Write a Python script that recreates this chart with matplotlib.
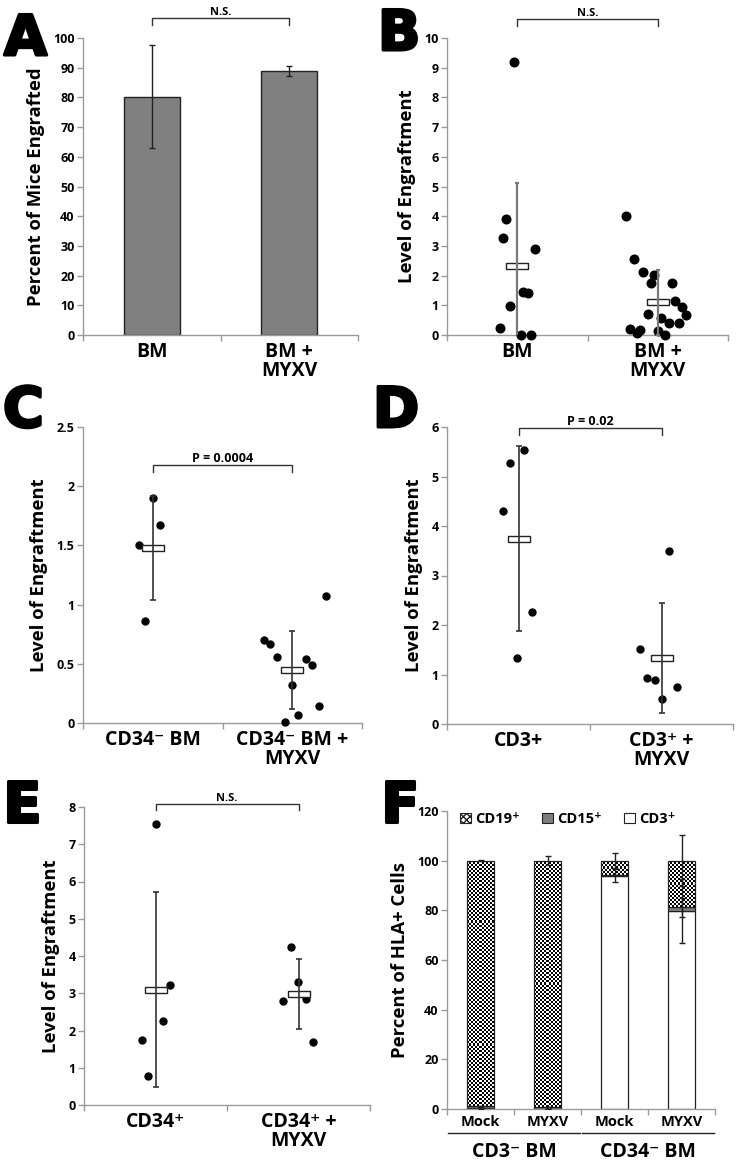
import matplotlib
matplotlib.use("Agg")
import matplotlib.pyplot as plt
import matplotlib.patheffects as pe
import numpy as np
from matplotlib.patches import Patch

plt.rcParams["font.family"] = ["Open Sans", "DejaVu Sans"]
plt.rcParams["font.weight"] = "bold"

# ---- panel A: percent of mice engrafted
a_groups = ["BM", "BM +\nMYXV"]
a_pct = [80.3, 88.8]
a_err = [17.5, 1.7]

# ---- panel B: level of engraftment, BM vs BM + MYXV
b_groups = ["BM", "BM +\nMYXV"]
b_bm = [9.2, 3.9, 3.28, 2.89, 1.44, 1.42, 0.98, 0.22, 0.0, 0.0]
b_bm_jit = [-0.024, -0.078, -0.099, 0.125, 0.040, 0.073, -0.054, -0.123, 0.024, 0.099]
b_myxv = [4.01, 2.55, 2.11, 2.01, 1.74, 1.75, 1.13, 0.94, 0.69, 0.71, 0.56, 0.42,
          0.39, 0.20, 0.17, 0.06, 0.13, 0.0]
b_myxv_jit = [-0.225, -0.170, -0.102, -0.024, -0.047, 0.102, 0.123, 0.173, 0.201,
              -0.071, 0.026, 0.078, 0.149, -0.199, -0.125, -0.149, 0.002, 0.052]
b_mean = [2.34, 1.10]
b_err = [2.79, 1.10]

# ---- panel C: CD34- BM
c_groups = ["CD34\u207b BM", "CD34\u207b BM +\nMYXV"]
c_bm = [1.90, 1.67, 1.50, 0.86]
c_bm_jit = [0.0, 0.050, -0.100, -0.053]
c_myxv = [0.70, 0.67, 0.56, 0.54, 0.49, 0.32, 0.14, 0.07, 0.005, 1.07]
c_myxv_jit = [-0.203, -0.156, -0.108, 0.096, 0.144, -0.005, 0.191, 0.043, -0.053, 0.239]
c_mean = [1.475, 0.45]
c_err = [0.44, 0.33]

# ---- panel D: CD3+
d_groups = ["CD3+", "CD3\u207a +\nMYXV"]
d_cd3 = [5.53, 5.28, 4.30, 2.26, 1.33]
d_cd3_jit = [0.040, -0.059, -0.106, 0.094, -0.007]
d_myxv = [3.49, 1.51, 0.93, 0.88, 0.50, 0.74]
d_myxv_jit = [0.054, -0.148, -0.101, -0.047, 0.0, 0.106]
d_mean = [3.74, 1.34]
d_err = [1.87, 1.11]

# ---- panel E: CD34+
e_groups = ["CD34\u207a", "CD34\u207a +\nMYXV"]
e_cd34 = [7.54, 3.21, 2.25, 1.75, 0.78]
e_cd34_jit = [0.0, 0.102, 0.051, -0.095, -0.049]
e_myxv = [4.25, 3.31, 2.79, 2.85, 1.68]
e_myxv_jit = [-0.049, -0.002, -0.105, 0.049, 0.102]
e_mean = [3.10, 2.97]
e_err = [2.63, 0.94]

# ---- panel F: lineage of HLA+ cells (stacked)
f_groups = ["Mock", "MYXV", "Mock", "MYXV"]
f_sets = ["CD3\u207b BM", "CD34\u207b BM"]
f_cd3 = [0.3, 0.0, 94.0, 79.7]
f_cd15 = [1.0, 0.8, 0.3, 1.5]
f_cd19 = [98.7, 99.2, 5.7, 18.8]
f_cd3_err = [0.5, 0.0, 2.7, 13.0]
f_cd15_err = [0.0, 0.0, 0.0, 3.7]
f_cd19_err = [0.3, 1.8, 3.0, 10.2]

W, H = 739, 1161
fig = plt.figure(figsize=(W / 100, H / 100), dpi=100)

SPINE = "#9a9a9a"
YLAB = 13.3
XLAB = 14


def px_axes(x0, y0, x1, y1):
    # pixel box (top-left origin) -> figure axes
    return fig.add_axes([x0 / W, 1 - y1 / H, (x1 - x0) / W, (y1 - y0) / H])


def style(ax, ylim, yticks, ylabel, ncat=2, fmt="{:g}"):
    ax.set_xlim(-0.5, ncat - 0.5)
    ax.set_ylim(*ylim)
    for s in ["top", "right"]:
        ax.spines[s].set_visible(False)
    for s in ["left", "bottom"]:
        ax.spines[s].set_color(SPINE)
        ax.spines[s].set_linewidth(1.0)
    ax.set_yticks(yticks)
    ax.set_yticklabels([fmt.format(t) for t in yticks], fontsize=9, fontweight="bold")
    ax.tick_params(axis="y", length=4, color=SPINE, width=1, pad=2)
    ax.set_xticks(range(ncat))
    ax.set_xticks(np.arange(-0.5, ncat, 1.0), minor=True)
    ax.tick_params(axis="x", which="major", length=0, pad=5)
    ax.tick_params(axis="x", which="minor", length=4, color=SPINE, width=1)
    ax.set_ylabel(ylabel, fontsize=YLAB, fontweight="bold", labelpad=6)


def bracket(ax, x0, x1, y, drop, text, fs=8.5):
    ax.plot([x0, x0, x1, x1], [y - drop, y, y, y - drop], color="#333333",
            lw=1.0, clip_on=False)
    ax.text((x0 + x1) / 2, y, text, ha="center", va="bottom", fontsize=fs,
            fontweight="bold")


def strip(ax, groups, jits, means, errs, dot=5, ecol="#333333", elw=1.2, cap=2.5):
    for i, (vals, jit) in enumerate(zip(groups, jits)):
        ax.plot(i + np.array(jit), vals, "o", color="black", ms=dot, zorder=3,
                clip_on=False)
    box = [(-1, -0.25), (1, -0.25), (1, 0.25), (-1, 0.25), (-1, -0.25)]
    ax.plot(range(len(means)), means, linestyle="none", marker=box, ms=16,
            mfc="white", mec="#222222", mew=1.0, zorder=4)
    ax.errorbar(range(len(means)), means, yerr=errs, fmt="none", ecolor=ecol,
                elinewidth=elw, capsize=cap, capthick=elw, zorder=5)


# ---------------- A
axA = px_axes(83, 38, 358, 335)
axA.bar(range(2), a_pct, width=0.41, color="#808080", edgecolor="#222222", lw=1.0,
        yerr=a_err, capsize=2.5, error_kw=dict(ecolor="#222222", elinewidth=1.0))
style(axA, (0, 100), range(0, 101, 10), "Percent of Mice Engrafted")
axA.set_xticklabels(a_groups, fontsize=XLAB, fontweight="bold", linespacing=0.95)
bracket(axA, 0, 1, 106.7, 2.4, "N.S.", fs=8)

# ---------------- B
axB = px_axes(447, 38, 728, 335)
strip(axB, [b_bm, b_myxv], [b_bm_jit, b_myxv_jit], b_mean, b_err, dot=6.2,
      ecol="#7a7a7a", elw=1.6, cap=1.5)
style(axB, (0, 10), range(0, 11), "Level of Engraftment")
axB.set_xticklabels(b_groups, fontsize=XLAB, fontweight="bold", linespacing=0.95)
bracket(axB, 0, 1, 10.64, 0.24, "N.S.", fs=8)

# ---------------- C
axC = px_axes(83, 427, 362, 723)
strip(axC, [c_bm, c_myxv], [c_bm_jit, c_myxv_jit], c_mean, c_err)
style(axC, (0, 2.5), [0, 0.5, 1, 1.5, 2, 2.5], "Level of Engraftment")
axC.set_xticklabels(c_groups, fontsize=XLAB, fontweight="bold", linespacing=0.95)
bracket(axC, 0, 1, 2.18, 0.06, "P = 0.0004", fs=9)

# ---------------- D
axD = px_axes(447, 427, 733, 724)
strip(axD, [d_cd3, d_myxv], [d_cd3_jit, d_myxv_jit], d_mean, d_err)
style(axD, (0, 6), range(0, 7), "Level of Engraftment")
axD.set_xticklabels(d_groups, fontsize=XLAB, fontweight="bold", linespacing=0.95)
bracket(axD, 0, 1, 5.97, 0.14, "P = 0.02", fs=9)

# ---------------- E
axE = px_axes(84, 807, 370, 1105)
strip(axE, [e_cd34, e_myxv], [e_cd34_jit, e_myxv_jit], e_mean, e_err)
style(axE, (0, 8), range(0, 9), "Level of Engraftment")
axE.set_xticklabels(e_groups, fontsize=XLAB, fontweight="bold", linespacing=0.95)
bracket(axE, 0, 1, 8.09, 0.16, "N.S.", fs=8)

# ---------------- F
axF = px_axes(447, 811, 715, 1109)
x = np.arange(len(f_groups))
bw = 0.4
cd3_bars = axF.bar(x, f_cd3, width=bw, color="white", edgecolor="#222222", lw=0.9)
cd15_bars = axF.bar(x, f_cd15, width=bw, bottom=f_cd3, color="#7f7f7f",
                    edgecolor="#222222", lw=0.9)
bottom19 = np.array(f_cd3) + np.array(f_cd15)
cd19_bars = axF.bar(x, f_cd19, width=bw, bottom=bottom19, color="white",
                    edgecolor="#222222", lw=0.9)
# checkerboard fill for CD19 segments
for b in cd19_bars:
    x0, y0, w, h = b.get_x(), b.get_y(), b.get_width(), b.get_height()
    nx = 13
    ny = max(1, int(round(h / 100 * 124)))
    chk = (np.add.outer(np.arange(ny), np.arange(nx)) % 2).astype(float)
    im = axF.imshow(chk, cmap="gray", vmin=0, vmax=1, extent=[x0, x0 + w, y0, y0 + h],
                    aspect="auto", interpolation="nearest", zorder=2)
    im.set_clip_path(b)
    b.set_facecolor("none")
    b.set_zorder(3)
tops3 = np.array(f_cd3)
tops15 = tops3 + np.array(f_cd15)
tops19 = tops15 + np.array(f_cd19)
ekw = dict(fmt="none", ecolor="#222222", elinewidth=1.0, capsize=2.5, capthick=1.0, zorder=5)
axF.errorbar(x, tops3, yerr=f_cd3_err, **ekw)
axF.errorbar(x, tops15, yerr=f_cd15_err, **ekw)
axF.errorbar(x, tops19, yerr=f_cd19_err, **ekw)
style(axF, (0, 120), range(0, 121, 20), "Percent of HLA+ Cells", ncat=4)
axF.set_xticklabels(f_groups, fontsize=10.5, fontweight="bold")
axF.tick_params(axis="x", which="major", pad=4)
handles = [Patch(facecolor="white", edgecolor="#222222", hatch="xxxxx", lw=0.8),
           Patch(facecolor="#7f7f7f", edgecolor="#222222", lw=0.8),
           Patch(facecolor="white", edgecolor="#222222", lw=0.8)]
axF.legend(handles, ["CD19\u207a", "CD15\u207a", "CD3\u207a"], ncol=3, frameon=False,
           loc="upper left", bbox_to_anchor=(0.0, 1.04),
           handlelength=0.75, handleheight=0.75, handletextpad=0.3, columnspacing=1.5,
           prop={"weight": "bold", "size": 10.5})
# group lines and labels under F
for gi, name in enumerate(f_sets):
    xa, xb = gi * 2 - 0.48, gi * 2 + 1.48
    axF.plot([xa, xb], [-0.08, -0.08], color="#222222", lw=1.0,
             transform=axF.get_xaxis_transform(), clip_on=False)
    axF.text(gi * 2 + 0.5, -0.11, name, transform=axF.get_xaxis_transform(),
             ha="center", va="top", fontsize=XLAB, fontweight="bold")

# panel letters
for letter, (px, py) in {"A": (4, 13), "B": (378, 8), "C": (3, 385), "D": (373, 385),
                         "E": (3, 780), "F": (381, 780)}.items():
    fig.text(px / W, 1 - py / H, letter, fontsize=40, fontweight="bold",
             family=["DejaVu Sans"], ha="left", va="top",
             path_effects=[pe.withStroke(linewidth=2.2, foreground="black")])

fig.savefig("out.png", dpi=100)
